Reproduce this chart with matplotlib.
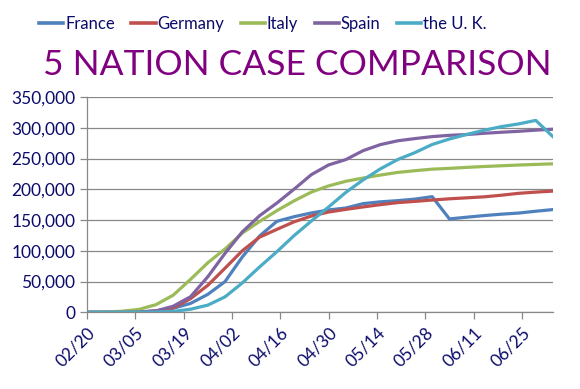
import matplotlib.pyplot as plt
import matplotlib.ticker as mticker
import pandas as pd

# sample dates (every 5 days), 2020
dates = ["02/20", "02/25", "03/01", "03/06", "03/11", "03/16", "03/21", "03/26",
         "03/31", "04/05", "04/10", "04/15", "04/20", "04/25", "04/30", "05/05",
         "05/10", "05/15", "05/20", "05/25", "05/30", "06/04", "06/09", "06/14",
         "06/19", "06/24", "06/29", "07/04"]

# cumulative cases
france = [12, 14, 130, 420, 2280, 6630, 14460, 29160, 50000, 90000, 124000, 147900,
          155400, 161500, 166400, 169600, 176700, 179600, 181500, 184000, 188000,
          151800, 154600, 157200, 159500, 161300, 164300, 167000]
germany = [16, 16, 130, 670, 1970, 7270, 22200, 43900, 71800, 100100, 122200, 134800,
           147100, 156500, 163000, 167300, 171300, 175000, 178300, 180300, 182500,
           184500, 186100, 187700, 190300, 193400, 195400, 197000]
italy = [3, 320, 1690, 4640, 12460, 27980, 53580, 80540, 103000, 128900, 147600, 165200,
         181200, 195400, 205500, 213000, 218300, 223100, 227400, 230200, 232700,
         234000, 235600, 237000, 238200, 239400, 240400, 241400]
spain = [2, 2, 84, 400, 2280, 9940, 25370, 57790, 95920, 130800, 157000, 177600,
         200200, 223800, 239600, 248300, 262800, 272600, 278800, 282400, 285600,
         287700, 289000, 291000, 292700, 294200, 296100, 297600]
uk = [9, 13, 36, 163, 456, 1540, 5020, 11660, 25150, 47810, 73760, 98480,
      124700, 148400, 171300, 195000, 215300, 233200, 248300, 259600, 272800,
      281700, 289100, 295900, 301800, 306200, 312000, 285400]

series_names = ["France", "Germany", "Italy", "Spain", "the U. K."]
series_colors = ["#4F81BD", "#C0504D", "#9BBB59", "#8064A2", "#4BACC6"]

tick_labels = ["02/20", "03/05", "03/19", "04/02", "04/16", "04/30",
               "05/14", "05/28", "06/11", "06/25"]

text_color = "#0B0B6B"
grid_color = "#888888"
font = "Lato"

x = pd.to_datetime(["2020/" + d for d in dates])
ticks = pd.to_datetime(["2020/" + t for t in tick_labels])

fig = plt.figure(figsize=(5.8, 3.89), dpi=100)
ax = fig.add_axes([87 / 580, 1 - 312.3 / 389, (553 - 87) / 580, (312.3 - 97) / 389])

for name, vals, col in zip(series_names, [france, germany, italy, spain, uk], series_colors):
    ax.plot(x, vals, color=col, lw=2.3, label=name, solid_joinstyle="round")

ax.set_xlim(x[0], x[-1])
ax.set_ylim(0, 350000)
ax.set_yticks(range(0, 350001, 50000))
ax.yaxis.set_major_formatter(mticker.FuncFormatter(lambda v, p: f"{int(v):,}"))
ax.set_xticks(ticks)
ax.set_xticklabels(tick_labels, rotation=45, ha="right", rotation_mode="anchor")

ax.grid(axis="y", color=grid_color, lw=0.9)
ax.set_axisbelow(True)
for s in ["top", "right"]:
    ax.spines[s].set_visible(False)
for s in ["left", "bottom"]:
    ax.spines[s].set_color(grid_color)
    ax.spines[s].set_linewidth(0.9)
ax.tick_params(axis="both", color=grid_color, width=0.9, length=5,
               labelcolor=text_color, labelsize=12.5)
for lab in ax.get_xticklabels() + ax.get_yticklabels():
    lab.set_fontfamily(font)
ax.tick_params(axis="x", pad=4)

fig.text(0.513, 1 - 65 / 389, "5 NATION CASE COMPARISON", color="#800080",
         fontsize=25.5, family=font, ha="center", va="center")

leg = fig.legend(loc="center", bbox_to_anchor=(0.453, 1 - 24 / 389), ncol=5,
                 frameon=False, handlelength=1.45, handletextpad=0.1,
                 columnspacing=1.0, prop={"family": font, "size": 12})
for t in leg.get_texts():
    t.set_color(text_color)
for h in leg.get_lines():
    h.set_linewidth(2.6)

fig.savefig("out.png", dpi=100)
